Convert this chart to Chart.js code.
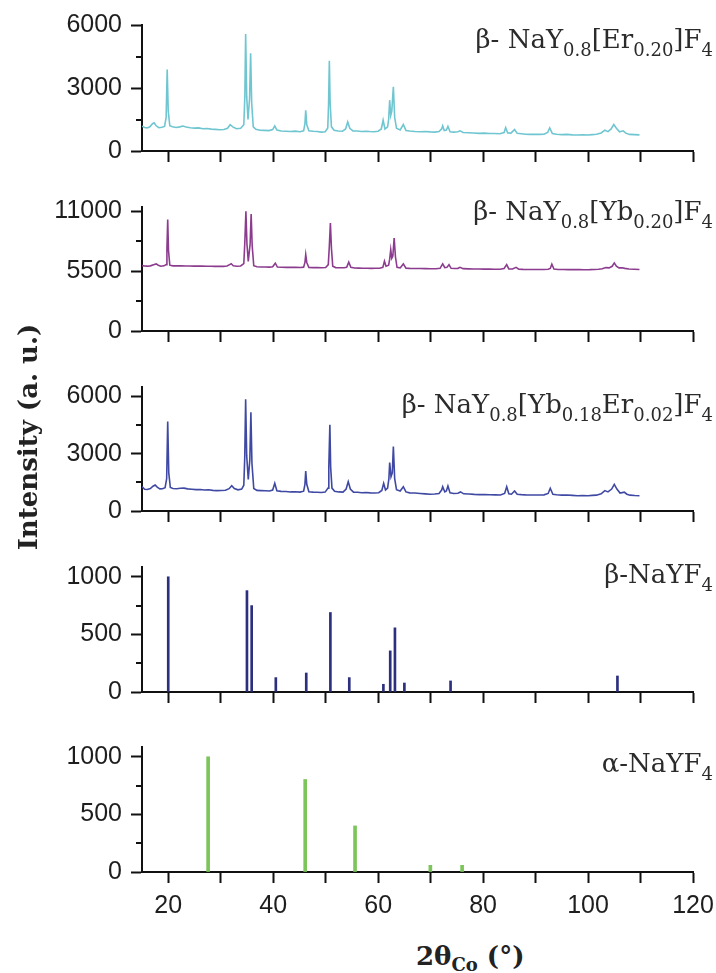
<!DOCTYPE html>
<html><head><meta charset="utf-8">
<script src="https://cdn.jsdelivr.net/npm/chart.js@4.4.1/dist/chart.umd.min.js"></script>
<style>
html,body{margin:0;padding:0;background:#fff;}
#wrap{position:relative;width:716px;height:973px;overflow:hidden;background:#fff;}
canvas{position:absolute;left:0;}
.t{position:absolute;right:3px;font-family:'DejaVu Serif';font-size:26px;color:#2b2b2b;white-space:nowrap;line-height:30px;}
.t sub{font-size:18px;vertical-align:-8px;line-height:0;}
#ytitle{position:absolute;left:-122px;top:422px;width:300px;height:30px;line-height:30px;text-align:center;font-family:'DejaVu Serif';font-weight:bold;font-size:26px;color:#222;transform:rotate(-90deg);white-space:nowrap;}
#xtitle{position:absolute;left:416px;top:941px;line-height:30px;font-family:'DejaVu Serif';font-weight:bold;font-size:26px;color:#222;white-space:nowrap;}
#xtitle sub{font-size:18px;vertical-align:-6px;line-height:0;}
</style></head><body><div id="wrap">
<canvas id="c1"></canvas><canvas id="c2"></canvas><canvas id="c3"></canvas><canvas id="c4"></canvas><canvas id="c5"></canvas>
<div class="t" style="top:24px">β- NaY<sub>0.8</sub>[Er<sub>0.20</sub>]F<sub>4</sub></div>
<div class="t" style="top:196px">β- NaY<sub>0.8</sub>[Yb<sub>0.20</sub>]F<sub>4</sub></div>
<div class="t" style="top:389px">β- NaY<sub>0.8</sub>[Yb<sub>0.18</sub>Er<sub>0.02</sub>]F<sub>4</sub></div>
<div class="t" style="top:559px">β-NaYF<sub>4</sub></div>
<div class="t" style="top:748px">α-NaYF<sub>4</sub></div>
<div id="ytitle">Intensity (a. u.)</div>
<div id="xtitle">2θ<sub>Co</sub> (°)</div>
</div>
<script>
// ---- x axis ----
const thetaMin = 15, thetaMax = 120;
const thetaTicks = [20, 30, 40, 50, 60, 70, 80, 90, 100, 110, 120];
const thetaLabelStep = 20;

// ---- β-NaY0.8[Er0.20]F4 scan ----
const erTheta = [15.0,15.5,16.0,16.5,17.0,17.3,17.7,18.2,18.8,19.3,19.6,19.8,20.0,20.3,20.8,21.5,22.2,22.8,23.4,24.2,25.0,25.8,26.6,27.4,28.2,29.0,29.8,30.6,31.3,31.8,32.3,33.0,33.8,34.4,34.6,34.75,34.95,35.2,35.5,35.7,35.9,36.2,36.7,37.5,38.3,39.2,39.9,40.3,40.7,41.5,42.4,43.3,44.2,45.1,45.8,46.05,46.2,46.4,46.8,47.6,48.4,49.2,49.9,50.4,50.55,50.7,50.85,51.1,51.6,52.4,53.2,53.8,54.2,54.6,55.2,56.0,56.8,57.6,58.4,59.2,60.0,60.6,60.95,61.3,61.8,62.0,62.2,62.4,62.6,62.9,63.15,63.5,64.2,64.8,65.3,66.0,67.0,68.0,69.0,69.9,70.8,71.6,72.1,72.3,72.6,73.0,73.3,73.7,74.4,75.2,75.6,76.2,77.2,78.2,79.2,80.2,81.2,82.2,83.2,84.0,84.3,84.7,85.3,86.0,86.5,87.3,88.1,88.9,89.8,90.7,91.6,92.3,92.7,93.2,94.0,95.0,96.0,97.0,98.0,99.0,100.0,100.8,101.6,102.5,103.2,103.8,104.4,104.9,105.4,106.0,106.7,107.2,107.9,108.8,109.8];
const erCounts = [1180,1120,1100,1150,1300,1340,1200,1110,1130,1170,1600,3885,1900,1200,1150,1120,1150,1190,1140,1110,1090,1100,1060,1070,1040,1030,1010,1020,1080,1250,1150,1060,1080,1250,2600,5570,2600,1500,2500,4650,2300,1150,1030,990,980,970,1020,1195,1000,950,940,930,945,920,960,1300,1940,1250,960,940,930,900,920,1100,2200,4300,2300,1150,990,950,940,1050,1385,1080,960,950,930,940,925,920,940,1050,1465,1050,1150,1500,2420,1700,1900,3055,1600,1080,1000,1260,980,950,930,920,930,910,900,930,1050,1200,970,1000,1175,920,900,920,960,880,870,860,840,850,830,835,820,880,1115,860,850,1020,840,820,800,790,800,790,800,880,1100,830,800,780,790,770,760,770,760,780,800,860,990,920,1050,1260,1080,910,960,850,790,780,770];

// ---- β-NaY0.8[Yb0.20]F4 scan ----
const ybTheta = [15.0,15.5,16.0,16.6,17.2,17.7,18.1,18.6,19.2,19.6,19.75,19.9,20.05,20.3,20.9,21.7,22.5,23.3,24.1,24.9,25.7,26.5,27.3,28.1,28.9,29.7,30.5,31.2,31.7,32.0,32.4,33.1,33.8,34.4,34.6,34.8,35.0,35.25,35.6,35.8,36.0,36.3,36.9,37.7,38.5,39.3,39.9,40.4,40.8,41.6,42.5,43.4,44.3,45.2,45.8,46.05,46.2,46.4,46.8,47.6,48.4,49.2,50.0,50.5,50.7,50.9,51.1,51.35,51.9,52.7,53.5,54.0,54.4,54.8,55.5,56.3,57.1,57.9,58.7,59.5,60.3,60.9,61.2,61.5,62.0,62.2,62.4,62.6,62.8,63.05,63.3,63.6,64.2,64.8,65.3,66.0,67.0,68.0,69.0,70.0,71.0,71.8,72.3,72.7,73.1,73.5,73.9,74.6,75.2,75.6,76.2,77.2,78.2,79.2,80.2,81.2,82.2,83.2,84.0,84.5,84.9,85.6,86.3,86.8,87.6,88.5,89.5,90.5,91.5,92.4,92.8,93.1,93.5,94.3,95.3,96.3,97.3,98.3,99.3,100.3,101.2,102.0,102.7,103.4,104.0,104.6,105.0,105.4,105.9,106.5,107.0,107.8,108.8,109.8];
const ybCounts = [6015,5980,5960,5990,6100,6170,6050,5960,5990,6100,7500,10240,7400,6050,5990,5985,5990,5975,5980,5965,5970,5960,5955,5950,5945,5950,5940,5970,6100,6180,6000,5950,5980,6200,8200,11000,8000,6400,8000,10760,7800,6000,5900,5890,5880,5875,5900,6230,5880,5860,5850,5845,5850,5840,5870,6300,7025,6300,5840,5830,5835,5820,5840,6100,7800,9930,7600,5950,5830,5820,5810,5850,6330,5850,5790,5780,5775,5770,5760,5765,5770,5850,6420,5950,6050,6600,7480,6700,6900,8550,6800,5850,5800,6170,5780,5760,5750,5740,5730,5720,5720,5760,6170,5820,5850,6100,5760,5740,5760,5850,5730,5710,5700,5700,5690,5685,5680,5680,5740,6100,5710,5700,5850,5690,5670,5660,5655,5650,5660,5680,5750,6140,5700,5660,5650,5640,5645,5640,5635,5640,5660,5680,5720,5830,5800,5950,6260,5950,5800,5820,5760,5700,5670,5650];

// ---- β-NaY0.8[Yb0.18Er0.02]F4 scan ----
const ybErTheta = [15.0,15.5,16.0,16.6,17.1,17.5,17.9,18.4,18.9,19.4,19.7,19.9,20.1,20.4,20.9,21.6,22.3,23.0,23.7,24.5,25.3,26.1,26.9,27.7,28.5,29.3,30.1,30.9,31.6,32.1,32.6,33.3,34.0,34.4,34.58,34.75,34.95,35.25,35.55,35.75,35.95,36.3,36.9,37.7,38.5,39.3,39.9,40.3,40.7,41.5,42.4,43.3,44.2,45.1,45.8,46.05,46.2,46.4,46.8,47.6,48.4,49.2,49.9,50.45,50.6,50.8,50.95,51.2,51.7,52.5,53.3,53.9,54.3,54.7,55.3,56.1,56.9,57.7,58.5,59.3,60.1,60.7,61.05,61.4,61.8,62.05,62.2,62.45,62.7,62.9,63.15,63.5,64.2,64.8,65.3,66.0,67.0,68.0,69.0,69.9,70.8,71.6,72.1,72.3,72.7,73.0,73.3,73.7,74.4,75.2,75.7,76.3,77.3,78.3,79.3,80.3,81.3,82.3,83.3,84.1,84.5,84.9,85.4,86.0,86.5,87.3,88.1,88.9,89.8,90.7,91.6,92.4,92.8,93.3,94.0,95.0,96.0,97.0,98.0,99.0,100.0,100.8,101.6,102.5,103.2,103.8,104.5,105.0,105.5,106.1,106.9,107.4,108.0,108.9,109.8];
const ybErCounts = [1275,1140,1130,1180,1300,1365,1250,1160,1170,1220,1700,4690,2000,1230,1180,1170,1190,1200,1160,1140,1120,1130,1100,1110,1080,1070,1075,1090,1170,1330,1180,1110,1150,1350,2800,5860,2900,1650,2700,5180,2500,1180,1080,1070,1060,1050,1100,1450,1060,1030,1020,1000,1010,990,1040,1400,2100,1400,1010,990,985,970,990,1200,2300,4515,2300,1200,1030,1000,990,1150,1540,1150,990,980,960,970,950,945,960,1080,1450,1100,1200,1700,2535,1800,2000,3375,1700,1120,1050,1275,1000,950,940,920,900,880,890,920,1100,1275,1000,1050,1310,950,920,930,1000,900,890,870,860,860,850,845,840,920,1275,900,880,1050,880,860,845,840,835,840,845,920,1190,880,850,830,835,820,800,810,800,820,830,900,1070,1000,1150,1400,1150,940,990,880,830,810,800];

// ---- reference patterns (stick intensities) ----
const betaRefTheta = [20.0,35.0,35.9,40.5,46.3,50.9,54.5,61.0,62.3,63.2,65.0,73.8,105.6];
const betaRefInt   = [1000,880,750,125,165,690,125,67,357,557,78,96,139];
const alphaRefTheta = [27.6,46.1,55.6,69.95,76.0];
const alphaRefInt   = [1000,803,400,58,58];

// ---- y axis ticks ----
const yMajorEr = [0,3000,6000], yMinorEr = [1500,4500];
const yMajorYb = [0,5500,11000], yMinorYb = [2750,8250];
const yMajorYbEr = [0,3000,6000], yMinorYbEr = [1500,4500];
const yMajorRef = [0,500,1000], yMinorRef = [250,750];

const pairs = (xs, ys) => xs.map((x, i) => ({x: x, y: ys[i]}));

const minorTicks = {
  id: 'minorTicks',
  afterDraw(chart, args, opts) {
    const y = chart.scales.y, ctx = chart.ctx;
    ctx.save();
    ctx.strokeStyle = '#111'; ctx.lineWidth = 2;
    (opts.values || []).forEach(v => {
      const p = Math.round(y.getPixelForValue(v));
      ctx.beginPath(); ctx.moveTo(y.right - 6, p); ctx.lineTo(y.right, p); ctx.stroke();
    });
    ctx.restore();
  }
};

function zeroPad(s) { s.paddingTop = 0; s.paddingBottom = 0; s.paddingLeft = 0; s.paddingRight = 0; }

function panel(id, areaTop, areaBottom, xAxisH, showX, yMax, yMajor, yMinor, dataset, type) {
  const cv = document.getElementById(id);
  const padTop = 14;
  const top = areaTop - padTop;
  const h = areaBottom - top + xAxisH;
  cv.style.top = top + 'px';
  cv.width = 716; cv.height = h;
  cv.style.width = '716px'; cv.style.height = h + 'px';
  const gridOpts = {display: true, drawOnChartArea: false, drawTicks: true, tickLength: 11, tickWidth: 2, tickColor: '#111', offset: false};
  const borderOpts = {display: true, color: '#111', width: 2};
  const tickFont = {family: "'Liberation Sans Narrow', 'Liberation Sans', Arial, sans-serif", size: 25};
  new Chart(cv, {
    type: type,
    data: {datasets: [dataset]},
    options: {
      responsive: false, animation: false, devicePixelRatio: 1,
      layout: {padding: {top: padTop, left: 0, right: 23, bottom: 0}},
      plugins: {legend: {display: false}, tooltip: {enabled: false}, minorTicks: {values: yMinor}},
      scales: {
        x: {type: 'linear', min: thetaMin, max: thetaMax, offset: false,
            afterBuildTicks: s => { s.ticks = thetaTicks.map(v => ({value: v})); },
            afterFit: s => { s.height = xAxisH; zeroPad(s); },
            grid: gridOpts, border: borderOpts,
            ticks: {display: showX, font: tickFont, color: '#1e1e1e', padding: 8, maxRotation: 0, autoSkip: false,
                    callback: v => (v % thetaLabelStep === 0 ? String(v) : '')}},
        y: {type: 'linear', min: 0, max: yMax,
            afterBuildTicks: s => { s.ticks = yMajor.map(v => ({value: v})); },
            afterFit: s => { s.width = 142; zeroPad(s); },
            grid: gridOpts, border: borderOpts,
            ticks: {font: tickFont, color: '#1e1e1e', padding: 9, autoSkip: false, callback: v => String(v)}}
      }
    },
    plugins: [minorTicks]
  });
}

const lineDs = (xs, ys, color) => ({data: pairs(xs, ys), borderColor: color, borderWidth: 1.6, pointRadius: 0, tension: 0, fill: false});
const barDs = (xs, ys, color, w) => ({data: pairs(xs, ys), backgroundColor: color, borderWidth: 0, barThickness: w});

panel('c1', 25, 151, 16, false, 6000, yMajorEr, yMinorEr, lineDs(erTheta, erCounts, '#6fc6d1'), 'line');
panel('c2', 207, 331, 16, false, 11400, yMajorYb, yMinorYb, lineDs(ybTheta, ybCounts, '#8c3c8e'), 'line');
panel('c3', 387, 511, 16, false, 6500, yMajorYbEr, yMinorYbEr, lineDs(ybErTheta, ybErCounts, '#3f49a3'), 'line');
panel('c4', 567, 692, 16, false, 1085, yMajorRef, yMinorRef, barDs(betaRefTheta, betaRefInt, '#2b2f7e', 2), 'bar');
panel('c5', 747, 872, 60, true, 1085, yMajorRef, yMinorRef, barDs(alphaRefTheta, alphaRefInt, '#7cc55a', 3), 'bar');
</script>
</body></html>
